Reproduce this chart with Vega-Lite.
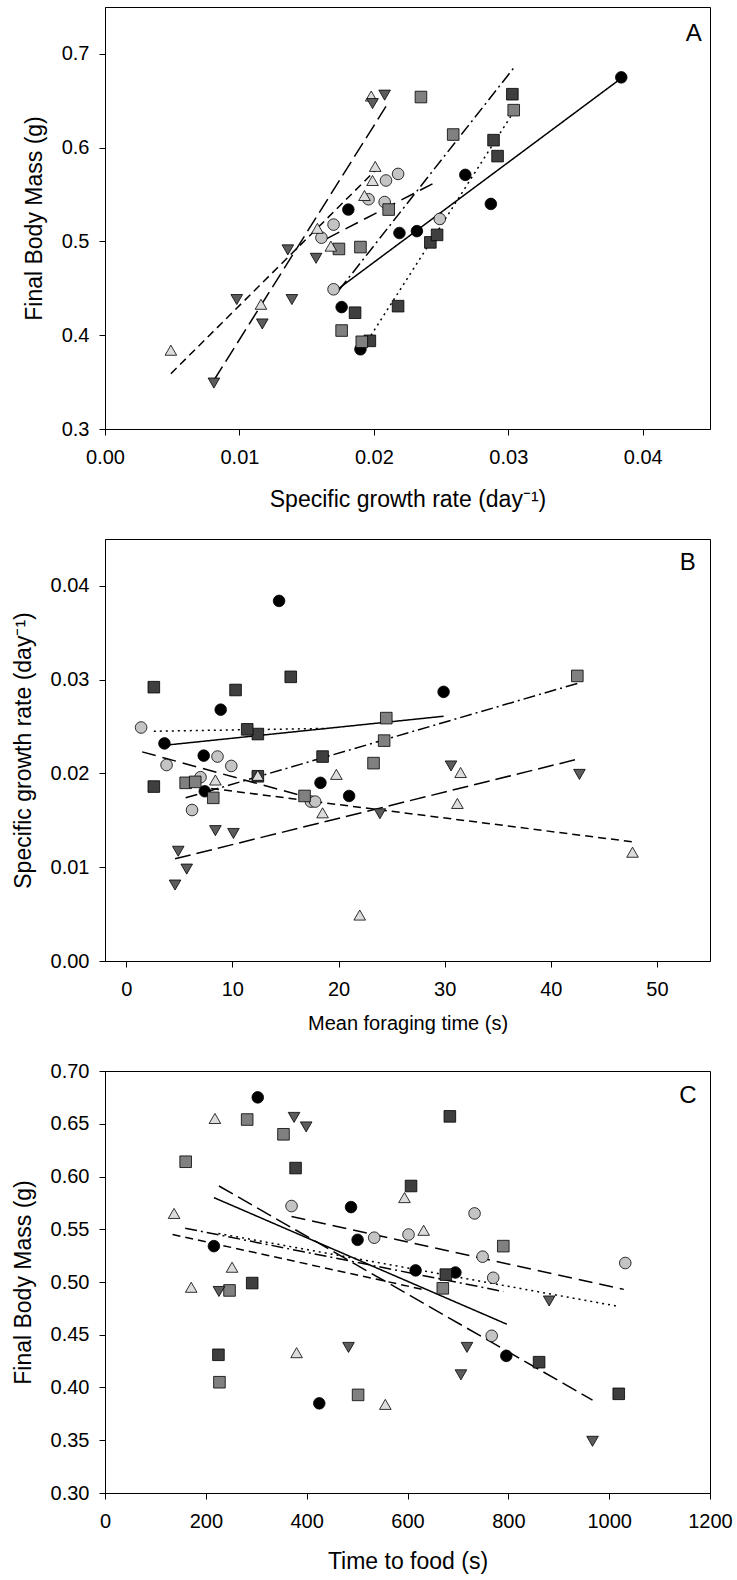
{
  "$schema": "https://vega.github.io/schema/vega-lite/v6.json",
  "padding": {"left": 11, "top": 6, "right": 5, "bottom": 5},
  "background": "white",
  "spacing": 26,
  "config": {
    "font": "Liberation Sans",
    "view": {"stroke": "black", "strokeWidth": 1},
    "axis": {"grid": false, "domainColor": "black", "tickColor": "black", "labelColor": "black", "titleColor": "black", "labelFontSize": 20, "titleFontSize": 23, "titleFontWeight": "normal", "tickSize": 6, "labelFont": "Liberation Sans", "titleFont": "Liberation Sans", "domainWidth": 1, "tickWidth": 1, "labelFlush": false},
    "axisX": {"labelPadding": 12.5, "titlePadding": 20},
    "axisY": {"labelPadding": 10, "titlePadding": 15}
  },
  "datasets": {
    "fish": [
      {"grp": "G1", "g": 0.0384, "m": 0.675, "tf": 303, "fg": 14.4},
      {"grp": "G1", "g": 0.0181, "m": 0.534, "tf": 216, "fg": 7.4},
      {"grp": "G1", "g": 0.0268, "m": 0.571, "tf": 488, "fg": 8.9},
      {"grp": "G1", "g": 0.0287, "m": 0.540, "tf": 501, "fg": 29.9},
      {"grp": "G1", "g": 0.0219, "m": 0.509, "tf": 695, "fg": 7.3},
      {"grp": "G1", "g": 0.0232, "m": 0.511, "tf": 616, "fg": 3.6},
      {"grp": "G1", "g": 0.0176, "m": 0.430, "tf": 796, "fg": 21.0},
      {"grp": "G1", "g": 0.0190, "m": 0.385, "tf": 425, "fg": 18.3},
      {"grp": "G2", "g": 0.0218, "m": 0.572, "tf": 370, "fg": 8.6},
      {"grp": "G2", "g": 0.0209, "m": 0.565, "tf": 733, "fg": 3.8},
      {"grp": "G2", "g": 0.0196, "m": 0.545, "tf": 602, "fg": 7.0},
      {"grp": "G2", "g": 0.0208, "m": 0.542, "tf": 534, "fg": 9.9},
      {"grp": "G2", "g": 0.0170, "m": 0.518, "tf": 1032, "fg": 17.4},
      {"grp": "G2", "g": 0.0161, "m": 0.504, "tf": 770, "fg": 6.2},
      {"grp": "G2", "g": 0.0249, "m": 0.524, "tf": 749, "fg": 1.4},
      {"grp": "G2", "g": 0.0170, "m": 0.449, "tf": 767, "fg": 17.8},
      {"grp": "G3", "g": 0.0303, "m": 0.657, "tf": 684, "fg": 15.5},
      {"grp": "G3", "g": 0.0289, "m": 0.608, "tf": 378, "fg": 10.3},
      {"grp": "G3", "g": 0.0292, "m": 0.591, "tf": 607, "fg": 2.6},
      {"grp": "G3", "g": 0.0242, "m": 0.499, "tf": 292, "fg": 12.4},
      {"grp": "G3", "g": 0.0247, "m": 0.507, "tf": 676, "fg": 11.4},
      {"grp": "G3", "g": 0.0218, "m": 0.431, "tf": 225, "fg": 18.5},
      {"grp": "G3", "g": 0.0186, "m": 0.424, "tf": 861, "fg": 2.6},
      {"grp": "G3", "g": 0.0197, "m": 0.394, "tf": 1019, "fg": 12.4},
      {"grp": "G4", "g": 0.0235, "m": 0.654, "tf": 282, "fg": 24.3},
      {"grp": "G4", "g": 0.0259, "m": 0.614, "tf": 160, "fg": 24.5},
      {"grp": "G4", "g": 0.0304, "m": 0.640, "tf": 354, "fg": 42.5},
      {"grp": "G4", "g": 0.0211, "m": 0.534, "tf": 790, "fg": 23.3},
      {"grp": "G4", "g": 0.0174, "m": 0.492, "tf": 247, "fg": 8.2},
      {"grp": "G4", "g": 0.0190, "m": 0.494, "tf": 670, "fg": 5.6},
      {"grp": "G4", "g": 0.0176, "m": 0.405, "tf": 227, "fg": 16.8},
      {"grp": "G4", "g": 0.0191, "m": 0.393, "tf": 502, "fg": 6.5},
      {"grp": "G5", "g": 0.0198, "m": 0.655, "tf": 218, "fg": 12.4},
      {"grp": "G5", "g": 0.0201, "m": 0.580, "tf": 594, "fg": 31.5},
      {"grp": "G5", "g": 0.0199, "m": 0.565, "tf": 137, "fg": 19.8},
      {"grp": "G5", "g": 0.0193, "m": 0.549, "tf": 632, "fg": 8.4},
      {"grp": "G5", "g": 0.0158, "m": 0.514, "tf": 252, "fg": 18.5},
      {"grp": "G5", "g": 0.0168, "m": 0.495, "tf": 171, "fg": 31.2},
      {"grp": "G5", "g": 0.0116, "m": 0.433, "tf": 380, "fg": 47.7},
      {"grp": "G5", "g": 0.0049, "m": 0.384, "tf": 556, "fg": 22.0},
      {"grp": "G6", "g": 0.0208, "m": 0.656, "tf": 375, "fg": 30.6},
      {"grp": "G6", "g": 0.0199, "m": 0.647, "tf": 399, "fg": 42.7},
      {"grp": "G6", "g": 0.0136, "m": 0.491, "tf": 226, "fg": 10.1},
      {"grp": "G6", "g": 0.0157, "m": 0.482, "tf": 881, "fg": 23.9},
      {"grp": "G6", "g": 0.0098, "m": 0.438, "tf": 483, "fg": 5.7},
      {"grp": "G6", "g": 0.0139, "m": 0.438, "tf": 718, "fg": 8.4},
      {"grp": "G6", "g": 0.0117, "m": 0.412, "tf": 706, "fg": 4.9},
      {"grp": "G6", "g": 0.0081, "m": 0.349, "tf": 967, "fg": 4.6}
    ],
    "linesA": [
      {"grp": "G1", "x": 0.0174, "y": 0.450}, {"grp": "G1", "x": 0.0384, "y": 0.674},
      {"grp": "G2", "x": 0.0165, "y": 0.503}, {"grp": "G2", "x": 0.0247, "y": 0.564},
      {"grp": "G3", "x": 0.0193, "y": 0.389}, {"grp": "G3", "x": 0.0303, "y": 0.636},
      {"grp": "G4", "x": 0.0174, "y": 0.448}, {"grp": "G4", "x": 0.0304, "y": 0.685},
      {"grp": "G5", "x": 0.0049, "y": 0.359}, {"grp": "G5", "x": 0.0202, "y": 0.577},
      {"grp": "G6", "x": 0.0081, "y": 0.352}, {"grp": "G6", "x": 0.0209, "y": 0.644}
    ],
    "linesB": [
      {"grp": "G1", "x": 3.6, "y": 0.0230}, {"grp": "G1", "x": 29.9, "y": 0.0261},
      {"grp": "G2", "x": 1.5, "y": 0.0223}, {"grp": "G2", "x": 17.6, "y": 0.0173},
      {"grp": "G3", "x": 2.6, "y": 0.0245}, {"grp": "G3", "x": 18.8, "y": 0.0248},
      {"grp": "G4", "x": 5.6, "y": 0.0174}, {"grp": "G4", "x": 42.5, "y": 0.0296},
      {"grp": "G5", "x": 8.0, "y": 0.0184}, {"grp": "G5", "x": 47.8, "y": 0.0127},
      {"grp": "G6", "x": 4.6, "y": 0.0109}, {"grp": "G6", "x": 42.8, "y": 0.0216}
    ],
    "linesC": [
      {"grp": "G1", "x": 216, "y": 0.580}, {"grp": "G1", "x": 797, "y": 0.460},
      {"grp": "G2", "x": 370, "y": 0.562}, {"grp": "G2", "x": 1029, "y": 0.493},
      {"grp": "G3", "x": 225, "y": 0.546}, {"grp": "G3", "x": 1017, "y": 0.477},
      {"grp": "G4", "x": 159, "y": 0.551}, {"grp": "G4", "x": 790, "y": 0.491},
      {"grp": "G5", "x": 134, "y": 0.545}, {"grp": "G5", "x": 630, "y": 0.493},
      {"grp": "G6", "x": 226, "y": 0.591}, {"grp": "G6", "x": 967, "y": 0.388}
    ]
  },
  "vconcat": [
    {
      "width": 605, "height": 422,
      "layer": [
        {
          "data": {"name": "linesA"},
          "mark": {"type": "line", "color": "black", "strokeWidth": 1.5},
          "encoding": {
            "x": {"field": "x", "type": "quantitative", "scale": {"domain": [0, 0.045], "nice": false, "zero": false}, "axis": {"values": [0, 0.01, 0.02, 0.03, 0.04], "format": ".2f", "title": "Specific growth rate (day⁻¹)", "titleFontSize": 23, "titlePadding": 21}},
            "y": {"field": "y", "type": "quantitative", "scale": {"domain": [0.3, 0.75], "nice": false, "zero": false}, "axis": {"values": [0.3, 0.4, 0.5, 0.6, 0.7], "format": ".1f", "title": "Final Body Mass (g)"}},
            "detail": {"field": "grp"},
            "strokeDash": {"field": "grp", "type": "nominal", "legend": null, "scale": {"domain": ["G1", "G2", "G3", "G4", "G5", "G6"], "range": [[1, 0], [14, 7], [2, 4], [12, 4, 2, 4], [8, 5], [16, 6]]}}
          }
        },
        {
          "data": {"name": "fish"},
          "mark": {"type": "point", "filled": true, "stroke": "black", "strokeWidth": 0.8, "opacity": 1},
          "encoding": {
            "x": {"field": "g", "type": "quantitative", "scale": {"domain": [0, 0.045], "nice": false, "zero": false}, "axis": {"values": [0, 0.01, 0.02, 0.03, 0.04], "format": ".2f", "title": "Specific growth rate (day⁻¹)", "titleFontSize": 23, "titlePadding": 21}},
            "y": {"field": "m", "type": "quantitative", "scale": {"domain": [0.3, 0.75], "nice": false, "zero": false}, "axis": {"values": [0.3, 0.4, 0.5, 0.6, 0.7], "format": ".1f", "title": "Final Body Mass (g)"}},
            "shape": {"field": "grp", "type": "nominal", "legend": null, "scale": {"domain": ["G1", "G2", "G3", "G4", "G5", "G6"], "range": ["circle", "circle", "square", "square", "triangle-up", "triangle-down"]}},
            "fill": {"field": "grp", "type": "nominal", "legend": null, "scale": {"domain": ["G1", "G2", "G3", "G4", "G5", "G6"], "range": ["#000000", "#c4c4c4", "#3f3f3f", "#808080", "#dcdcdc", "#5c5c5c"]}},
            "size": {"field": "grp", "type": "nominal", "legend": null, "scale": {"domain": ["G1", "G2", "G3", "G4", "G5", "G6"], "range": [135, 135, 110, 110, 130, 130]}}
          }
        },
        {
          "data": {"values": [{"label": "A"}]},
          "mark": {"type": "text", "fontSize": 24, "align": "center", "baseline": "middle", "font": "Liberation Sans"},
          "encoding": {
            "x": {"datum": 0.0438, "type": "quantitative"},
            "y": {"datum": 0.721, "type": "quantitative"},
            "text": {"field": "label"}
          }
        }
      ]
    },
    {
      "width": 605, "height": 422,
      "layer": [
        {
          "data": {"name": "linesB"},
          "mark": {"type": "line", "color": "black", "strokeWidth": 1.5},
          "encoding": {
            "x": {"field": "x", "type": "quantitative", "scale": {"domain": [-2, 55], "nice": false, "zero": false}, "axis": {"values": [0, 10, 20, 30, 40, 50], "format": "d", "title": "Mean foraging time (s)", "titleFontSize": 20, "titlePadding": 14}},
            "y": {"field": "y", "type": "quantitative", "scale": {"domain": [0, 0.045], "nice": false, "zero": false}, "axis": {"values": [0, 0.01, 0.02, 0.03, 0.04], "format": ".2f", "title": "Specific growth rate (day⁻¹)"}},
            "detail": {"field": "grp"},
            "strokeDash": {"field": "grp", "type": "nominal", "legend": null, "scale": {"domain": ["G1", "G2", "G3", "G4", "G5", "G6"], "range": [[1, 0], [14, 7], [2, 4], [12, 4, 2, 4], [8, 5], [16, 6]]}}
          }
        },
        {
          "data": {"name": "fish"},
          "mark": {"type": "point", "filled": true, "stroke": "black", "strokeWidth": 0.8, "opacity": 1},
          "encoding": {
            "x": {"field": "fg", "type": "quantitative", "scale": {"domain": [-2, 55], "nice": false, "zero": false}, "axis": {"values": [0, 10, 20, 30, 40, 50], "format": "d", "title": "Mean foraging time (s)", "titleFontSize": 20, "titlePadding": 14}},
            "y": {"field": "g", "type": "quantitative", "scale": {"domain": [0, 0.045], "nice": false, "zero": false}, "axis": {"values": [0, 0.01, 0.02, 0.03, 0.04], "format": ".2f", "title": "Specific growth rate (day⁻¹)"}},
            "shape": {"field": "grp", "type": "nominal", "legend": null, "scale": {"domain": ["G1", "G2", "G3", "G4", "G5", "G6"], "range": ["circle", "circle", "square", "square", "triangle-up", "triangle-down"]}},
            "fill": {"field": "grp", "type": "nominal", "legend": null, "scale": {"domain": ["G1", "G2", "G3", "G4", "G5", "G6"], "range": ["#000000", "#c4c4c4", "#3f3f3f", "#808080", "#dcdcdc", "#5c5c5c"]}},
            "size": {"field": "grp", "type": "nominal", "legend": null, "scale": {"domain": ["G1", "G2", "G3", "G4", "G5", "G6"], "range": [135, 135, 110, 110, 130, 130]}}
          }
        },
        {
          "data": {"values": [{"label": "B"}]},
          "mark": {"type": "text", "fontSize": 24, "align": "center", "baseline": "middle", "font": "Liberation Sans"},
          "encoding": {
            "x": {"datum": 52.9, "type": "quantitative"},
            "y": {"datum": 0.0424, "type": "quantitative"},
            "text": {"field": "label"}
          }
        }
      ]
    },
    {
      "width": 605, "height": 422,
      "layer": [
        {
          "data": {"name": "linesC"},
          "mark": {"type": "line", "color": "black", "strokeWidth": 1.5},
          "encoding": {
            "x": {"field": "x", "type": "quantitative", "scale": {"domain": [0, 1200], "nice": false, "zero": false}, "axis": {"values": [0, 200, 400, 600, 800, 1000, 1200], "format": "d", "title": "Time to food (s)", "titleFontSize": 23, "titlePadding": 19}},
            "y": {"field": "y", "type": "quantitative", "scale": {"domain": [0.3, 0.7], "nice": false, "zero": false}, "axis": {"values": [0.3, 0.35, 0.4, 0.45, 0.5, 0.55, 0.6, 0.65, 0.7], "format": ".2f", "title": "Final Body Mass (g)"}},
            "detail": {"field": "grp"},
            "strokeDash": {"field": "grp", "type": "nominal", "legend": null, "scale": {"domain": ["G1", "G2", "G3", "G4", "G5", "G6"], "range": [[1, 0], [14, 7], [2, 4], [12, 4, 2, 4], [8, 5], [16, 6]]}}
          }
        },
        {
          "data": {"name": "fish"},
          "mark": {"type": "point", "filled": true, "stroke": "black", "strokeWidth": 0.8, "opacity": 1},
          "encoding": {
            "x": {"field": "tf", "type": "quantitative", "scale": {"domain": [0, 1200], "nice": false, "zero": false}, "axis": {"values": [0, 200, 400, 600, 800, 1000, 1200], "format": "d", "title": "Time to food (s)", "titleFontSize": 23, "titlePadding": 19}},
            "y": {"field": "m", "type": "quantitative", "scale": {"domain": [0.3, 0.7], "nice": false, "zero": false}, "axis": {"values": [0.3, 0.35, 0.4, 0.45, 0.5, 0.55, 0.6, 0.65, 0.7], "format": ".2f", "title": "Final Body Mass (g)"}},
            "shape": {"field": "grp", "type": "nominal", "legend": null, "scale": {"domain": ["G1", "G2", "G3", "G4", "G5", "G6"], "range": ["circle", "circle", "square", "square", "triangle-up", "triangle-down"]}},
            "fill": {"field": "grp", "type": "nominal", "legend": null, "scale": {"domain": ["G1", "G2", "G3", "G4", "G5", "G6"], "range": ["#000000", "#c4c4c4", "#3f3f3f", "#808080", "#dcdcdc", "#5c5c5c"]}},
            "size": {"field": "grp", "type": "nominal", "legend": null, "scale": {"domain": ["G1", "G2", "G3", "G4", "G5", "G6"], "range": [135, 135, 110, 110, 130, 130]}}
          }
        },
        {
          "data": {"values": [{"label": "C"}]},
          "mark": {"type": "text", "fontSize": 24, "align": "center", "baseline": "middle", "font": "Liberation Sans"},
          "encoding": {
            "x": {"datum": 1156, "type": "quantitative"},
            "y": {"datum": 0.676, "type": "quantitative"},
            "text": {"field": "label"}
          }
        }
      ]
    }
  ]
}
